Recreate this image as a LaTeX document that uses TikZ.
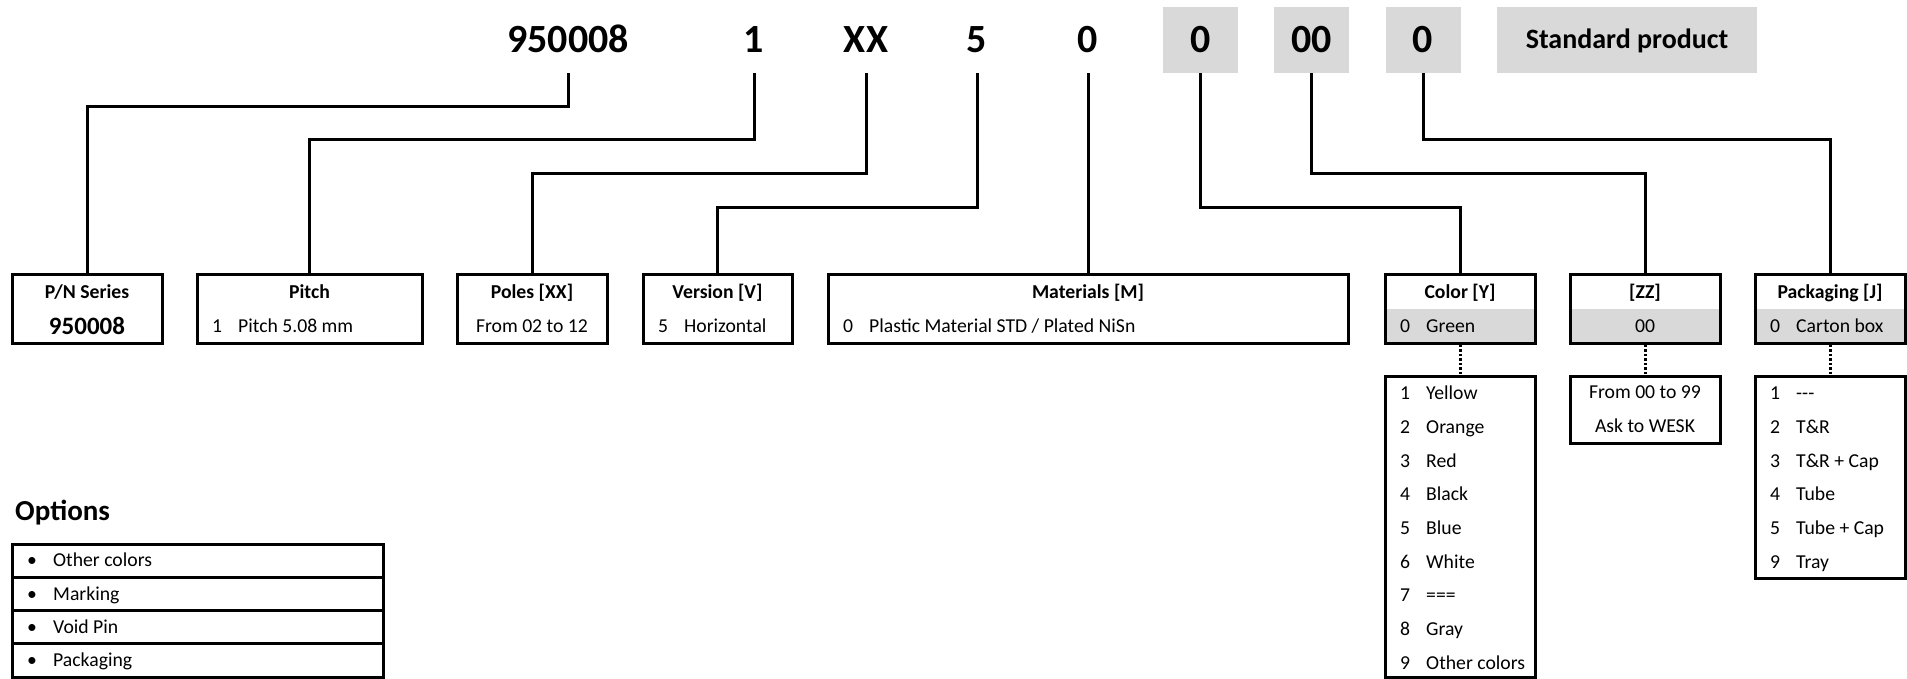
\documentclass[tikz,border=0pt]{standalone}
\usepackage{fontspec}
\setmainfont{Carlito}
\definecolor{codegrey}{HTML}{D9D9D9}
\begin{document}
\begin{tikzpicture}[x=1pt,y=-1pt,
  txt/.style={inner sep=0pt, font=\fontsize{19.7pt}{24pt}\selectfont},
  ttl/.style={inner sep=0pt, font=\bfseries\fontsize{19.7pt}{24pt}\selectfont},
  bigval/.style={inner sep=0pt, font=\bfseries\fontsize{25pt}{30pt}\selectfont},
  box/.style={draw, line width=3pt, inner sep=0pt, minimum height=68pt},
  listbox/.style={draw, line width=3pt, inner sep=0pt},
  greyrow/.style={path picture={\fill[codegrey] (path picture bounding box.west) rectangle (path picture bounding box.south east);}},
  topcode/.style={inner sep=0pt, minimum height=66pt, text height=25.3pt, text depth=0pt, font=\bfseries\fontsize{40pt}{48pt}\selectfont},
  greycode/.style={topcode, fill=codegrey, minimum width=75pt},
  conn/.style={line width=3pt},
  dotconn/.style={line width=3pt, dash pattern=on 2.5pt off 2pt},
  rowbox/.style={draw, line width=3pt, inner sep=0pt, minimum width=371pt, minimum height=33.25pt}
]
\useasboundingbox (0,0) rectangle (1907,679);

% ---- top code ----
\node[topcode] (t950) at (568,40) {950008};
\node[topcode] (t1) at (754,40) {1};
\node[topcode] (tXX) at (866,40) {XX};
\node[topcode] (t5) at (977,40) {5};
\node[topcode] (tM) at (1088,40) {0};
\node[greycode] (gY) at (1200.5,40) {0};
\node[greycode] (gZ) at (1311.5,40) {00};
\node[greycode] (gJ) at (1423,40) {0};
\node[greycode, minimum width=260pt, text height=18pt, font=\bfseries\fontsize{28pt}{34pt}\selectfont] (std) at (1627,40) {Standard product};

% ---- field boxes ----
\node[box, minimum width=150pt] (pn) at (87,309) {};
\node[box, minimum width=225pt] (pitch) at (309.5,309) {};
\node[box, minimum width=150pt] (poles) at (532,309) {};
\node[box, minimum width=149pt] (version) at (717.5,309) {};
\node[box, minimum width=520pt] (mat) at (1088,309) {};
\node[box, greyrow, minimum width=150pt] (color) at (1460,309) {};
\node[box, greyrow, minimum width=150pt] (zz) at (1645,309) {};
\node[box, greyrow, minimum width=150pt] (pack) at (1830,309) {};

% titles
\node[ttl, anchor=base] (pnT) at (87,298.5) {P/N Series};
\node[bigval, anchor=base] (pnV) at (87,334) {950008};
\node[ttl, anchor=base] (pitchT) at (309.5,298.5) {Pitch};
\node[txt, anchor=base] (pitchN) at (217,332.5) {1};
\node[txt, anchor=base west] (pitchV) at (238,332.5) {Pitch 5.08 mm};
\node[ttl, anchor=base] (polesT) at (532,298.5) {Poles [XX]};
\node[txt, anchor=base] (polesV) at (532,332.5) {From 02 to 12};
\node[ttl, anchor=base] (versionT) at (717.5,298.5) {Version [V]};
\node[txt, anchor=base] (versionN) at (663,332.5) {5};
\node[txt, anchor=base west] (versionV) at (684,332.5) {Horizontal};
\node[ttl, anchor=base] (matT) at (1088,298.5) {Materials [M]};
\node[txt, anchor=base] (matN) at (848,332.5) {0};
\node[txt, anchor=base west] (matV) at (869,332.5) {Plastic Material STD / Plated NiSn};
\node[ttl, anchor=base] (colorT) at (1460,298.5) {Color [Y]};
\node[txt, anchor=base] (colorN) at (1405,332.5) {0};
\node[txt, anchor=base west] (colorV) at (1426,332.5) {Green};
\node[ttl, anchor=base] (zzT) at (1645,298.5) {[ZZ]};
\node[txt, anchor=base] (zzV) at (1645,332.5) {00};
\node[ttl, anchor=base] (packT) at (1830,298.5) {Packaging [J]};
\node[txt, anchor=base] (packN) at (1775,332.5) {0};
\node[txt, anchor=base west] (packV) at (1796,332.5) {Carton box};

% ---- connectors ----
\draw[conn] (t950.south) -- (t950.south |- 0,107) -| (pn.north);
\draw[conn] (t1.south) -- (t1.south |- 0,140) -| (pitch.north);
\draw[conn] (tXX.south) -- (tXX.south |- 0,174) -| (poles.north);
\draw[conn] (t5.south) -- (t5.south |- 0,208) -| (version.north);
\draw[conn] (tM.south) -- (mat.north);
\draw[conn] (gY.south) -- (gY.south |- 0,208) -| (color.north);
\draw[conn] (gZ.south) -- (gZ.south |- 0,174) -| (zz.north);
\draw[conn] (gJ.south) -- (gJ.south |- 0,140) -| (pack.north);

% ---- option lists ----
\node[listbox, minimum width=150pt, minimum height=301pt] (colorL) at (1460,526.5) {};
\node[listbox, minimum width=150pt, minimum height=67pt] (zzL) at (1645,409.5) {};
\node[listbox, minimum width=150pt, minimum height=202pt] (packL) at (1830,477) {};

\draw[dotconn] (color.south) -- (colorL.north);
\draw[dotconn] (zz.south) -- (zzL.north);
\draw[dotconn] (pack.south) -- (packL.north);

\foreach \n/\t [count=\i from 0] in {1/Yellow,2/Orange,3/Red,4/Black,5/Blue,6/White,7/===,8/Gray,9/Other colors}{
  \node[txt, anchor=base] (cN\i) at (1405,399.6+33.7*\i) {\n};
  \node[txt, anchor=base west] (cV\i) at (1426,399.6+33.7*\i) {\t};
}
\node[txt, anchor=base] (zzL1) at (1645,398.4) {From 00 to 99};
\node[txt, anchor=base] (zzL2) at (1645,432.4) {Ask to WESK};
\foreach \n/\t [count=\i from 0] in {1/-\kern0pt-\kern0pt-,2/T\&R,3/T\&R + Cap,4/Tube,5/Tube + Cap,9/Tray}{
  \node[txt, anchor=base] (pN\i) at (1775,399.6+33.7*\i) {\n};
  \node[txt, anchor=base west] (pV\i) at (1796,399.6+33.7*\i) {\t};
}

% ---- Options ----
\node[inner sep=0pt, anchor=base west, font=\bfseries\fontsize{29pt}{34pt}\selectfont] (optT) at (15,520) {Options};
\foreach \t [count=\i from 0] in {Other colors,Marking,Void Pin,Packaging}{
  \node[rowbox] (oR\i) at (197.5,560.625+33.25*\i) {};
  \node[txt, anchor=base] (oB\i) at (32,566.9+33.25*\i) {•};
  \node[txt, anchor=base west] (oV\i) at (53,566.9+33.25*\i) {\t};
}
\end{tikzpicture}
\end{document}
